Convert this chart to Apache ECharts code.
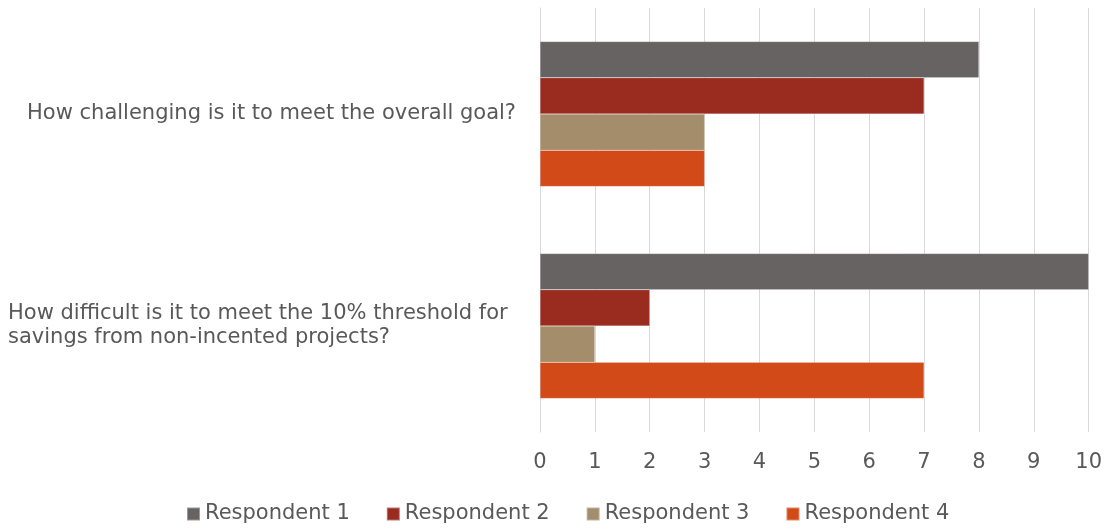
<!DOCTYPE html>
<html><head><meta charset="utf-8">
<script src="https://cdn.jsdelivr.net/npm/echarts@6/dist/echarts.min.js"></script>
<style>html,body{margin:0;padding:0;background:#fff}#c{width:1105px;height:531px}</style>
</head><body><div id="c"></div>
<script>
const categories = ["How challenging is it to meet the overall goal?", "How difficult is it to meet the 10% threshold for\nsavings from non-incented projects?"];
const seriesNames = ["Respondent 1", "Respondent 2", "Respondent 3", "Respondent 4"];
const respondent1 = [8, 10];
const respondent2 = [7, 2];
const respondent3 = [3, 1];
const respondent4 = [3, 7];
const xTicks = [0,1,2,3,4,5,6,7,8,9,10];
const colors = ["#676362", "#9A2B1F", "#A38D6B", "#D24A17"];
const values = [respondent1, respondent2, respondent3, respondent4];
const font = "DejaVu Sans";
const chart = echarts.init(document.getElementById('c'), null, {renderer: 'canvas'});
chart.setOption({
  animation: false,
  color: colors,
  textStyle: {fontFamily: font},
  grid: {left: 540, right: 15, top: 8, bottom: 99, containLabel: false},
  legend: {
    top: 503, left: 186, icon: 'rect', itemWidth: 13, itemHeight: 13, itemGap: 36, padding: 0,
    textStyle: {fontFamily: font, fontSize: 21, color: '#595959', lineHeight: 22},
    data: seriesNames
  },
  xAxis: {
    type: 'value', min: xTicks[0], max: xTicks[xTicks.length-1], interval: 1,
    axisLine: {show: false}, axisTick: {show: false},
    splitLine: {show: true, lineStyle: {color: '#D9D9D9', width: 1}},
    axisLabel: {margin: 20, fontFamily: font, fontSize: 21, color: '#595959'}
  },
  yAxis: {
    type: 'category', inverse: true, data: categories,
    axisLine: {show: true, lineStyle: {color: '#D9D9D9'}}, axisTick: {show: false},
    axisLabel: {
      margin: 24, fontFamily: font, fontSize: 21, color: '#595959', lineHeight: 24,
      formatter: function (v) {
        if (v.indexOf('\n') < 0) return v;
        return v.split('\n').map(function (l) { return '{b|' + l + '}'; }).join('\n');
      },
      rich: {b: {width: 508, align: 'left', fontFamily: font, fontSize: 21, color: '#595959', lineHeight: 24}}
    }
  },
  series: seriesNames.map(function (n, i) {
    return {name: n, type: 'bar', data: values[i], barGap: '0%', barCategoryGap: '31.6%',
      itemStyle: {color: colors[i], borderColor: 'rgba(255,255,255,0.35)', borderWidth: 0.5}};
  })
});
</script></body></html>
